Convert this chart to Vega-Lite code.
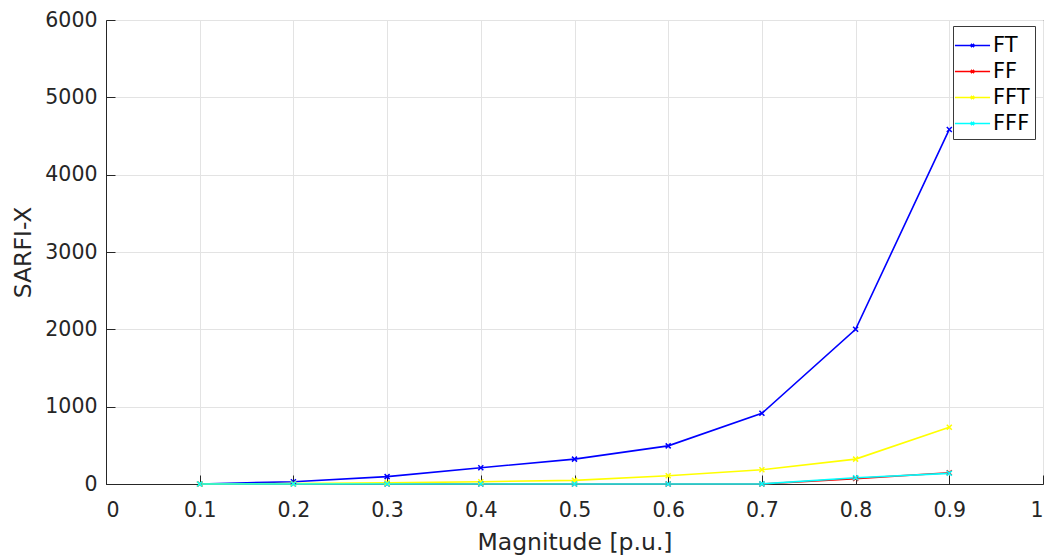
{
  "$schema": "https://vega.github.io/schema/vega-lite/v6.json",
  "width": 937,
  "height": 464,
  "autosize": {"type": "none"},
  "padding": {"left": 106, "top": 20, "right": 2, "bottom": 76},
  "background": "white",
  "config": {
    "font": "DejaVu Sans",
    "view": {"stroke": "#262626", "strokeWidth": 1},
    "axis": {
      "labelFont": "DejaVu Sans",
      "titleFont": "DejaVu Sans",
      "labelFontSize": 20.5,
      "titleFontSize": 23.5,
      "labelColor": "#262626",
      "titleColor": "#262626",
      "titleFontWeight": "normal",
      "domainColor": "#262626",
      "tickColor": "#262626",
      "gridColor": "#e3e3e3",
      "gridWidth": 1,
      "tickSize": -9
    }
  },
  "data": {
    "values": [
      {"m": 0.1, "s": "FT", "v": 0},
      {"m": 0.2, "s": "FT", "v": 30},
      {"m": 0.3, "s": "FT", "v": 95},
      {"m": 0.4, "s": "FT", "v": 210},
      {"m": 0.5, "s": "FT", "v": 322},
      {"m": 0.6, "s": "FT", "v": 493},
      {"m": 0.7, "s": "FT", "v": 914},
      {"m": 0.8, "s": "FT", "v": 2000},
      {"m": 0.9, "s": "FT", "v": 4585},
      {"m": 0.1, "s": "FF", "v": 0},
      {"m": 0.2, "s": "FF", "v": 0},
      {"m": 0.3, "s": "FF", "v": 0},
      {"m": 0.4, "s": "FF", "v": 0},
      {"m": 0.5, "s": "FF", "v": 0},
      {"m": 0.6, "s": "FF", "v": 0},
      {"m": 0.7, "s": "FF", "v": 0},
      {"m": 0.8, "s": "FF", "v": 70},
      {"m": 0.9, "s": "FF", "v": 145},
      {"m": 0.1, "s": "FFT", "v": 0},
      {"m": 0.2, "s": "FFT", "v": 5},
      {"m": 0.3, "s": "FFT", "v": 15},
      {"m": 0.4, "s": "FFT", "v": 30},
      {"m": 0.5, "s": "FFT", "v": 47},
      {"m": 0.6, "s": "FFT", "v": 107},
      {"m": 0.7, "s": "FFT", "v": 185},
      {"m": 0.8, "s": "FFT", "v": 322},
      {"m": 0.9, "s": "FFT", "v": 734},
      {"m": 0.1, "s": "FFF", "v": 0},
      {"m": 0.2, "s": "FFF", "v": 0},
      {"m": 0.3, "s": "FFF", "v": 0},
      {"m": 0.4, "s": "FFF", "v": 0},
      {"m": 0.5, "s": "FFF", "v": 0},
      {"m": 0.6, "s": "FFF", "v": 0},
      {"m": 0.7, "s": "FFF", "v": 2},
      {"m": 0.8, "s": "FFF", "v": 81},
      {"m": 0.9, "s": "FFF", "v": 138}
    ]
  },
  "encoding": {
    "x": {
      "field": "m",
      "type": "quantitative",
      "scale": {"domain": [0, 1], "nice": false, "zero": false},
      "axis": {"values": [0, 0.1, 0.2, 0.3, 0.4, 0.5, 0.6, 0.7, 0.8, 0.9, 1], "format": "~g", "title": "Magnitude [p.u.]", "labelPadding": 25.5, "titleY": 65, "titleBaseline": "alphabetic"}
    },
    "y": {
      "field": "v",
      "type": "quantitative",
      "scale": {"domain": [0, 6000], "nice": false},
      "axis": {"values": [0, 1000, 2000, 3000, 4000, 5000, 6000], "format": "d", "title": "SARFI-X", "labelPadding": 18, "titleX": -76, "titleBaseline": "alphabetic"}
    },
    "color": {
      "field": "s",
      "type": "nominal",
      "sort": ["FT", "FF", "FFT", "FFF"],
      "scale": {"domain": ["FT", "FF", "FFT", "FFF"], "range": ["#0000ff", "#ff0000", "#ffff00", "#00ffff"]},
      "legend": {
        "title": null,
        "orient": "none",
        "legendX": 847,
        "legendY": 6,
        "strokeColor": "#3a3a3a",
        "fillColor": "white",
        "padding": 5,
        "labelFontSize": 21,
        "labelColor": "#000000",
        "labelFont": "DejaVu Sans",
        "symbolType": "M-1.3,0H1.3M-0.12,-0.12L0.12,0.12M-0.12,0.12L0.12,-0.12",
        "symbolSize": 729,
        "symbolStrokeWidth": 1.5,
        "symbolFillColor": "transparent",
        "rowPadding": 1,
        "labelOffset": 6
      }
    },
    "order": {"field": "m", "type": "quantitative"}
  },
  "layer": [
    {"mark": {"type": "line", "strokeWidth": 1.6}},
    {"mark": {"type": "point", "shape": "M-1,-1L1,1M-1,1L1,-1", "filled": false, "size": 25, "strokeWidth": 1.5, "opacity": 1}}
  ]
}
